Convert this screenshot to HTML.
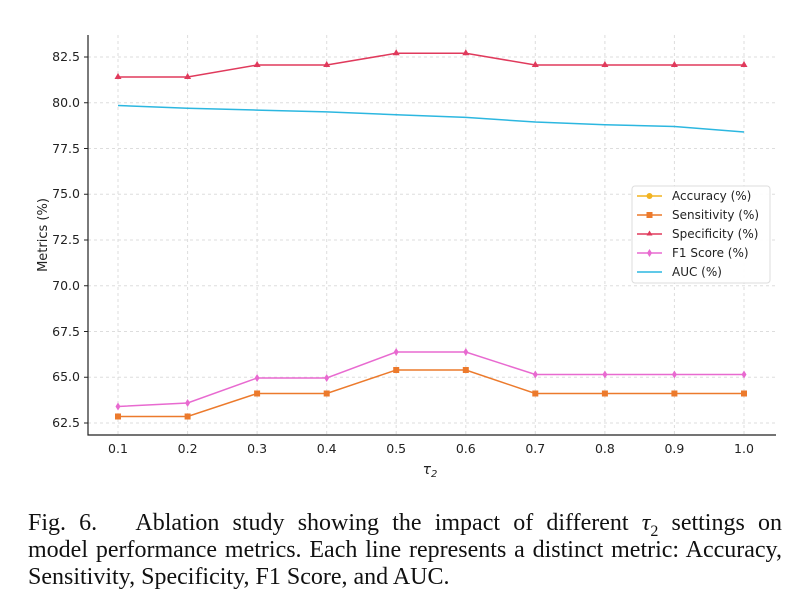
<!DOCTYPE html><html><head><style>
body{margin:0;background:#fff;width:804px;height:613px;overflow:hidden}
.cap{position:absolute;left:28px;width:754px;font-family:"Liberation Serif",serif;font-size:24px;line-height:27px;white-space:nowrap;color:#111}
.j{text-align:justify;text-align-last:justify}
sub{font-size:16px;line-height:0}
</style></head><body>
<svg width="804" height="500" style="position:absolute;left:0;top:0" font-family="DejaVu Sans, sans-serif">
<g stroke="#ddd" stroke-dasharray="3,3" stroke-width="1">
<line x1="88" x2="776" y1="57" y2="57"/><line x1="88" x2="776" y1="102.75" y2="102.75"/><line x1="88" x2="776" y1="148.5" y2="148.5"/><line x1="88" x2="776" y1="194.25" y2="194.25"/><line x1="88" x2="776" y1="240" y2="240"/><line x1="88" x2="776" y1="285.75" y2="285.75"/><line x1="88" x2="776" y1="331.5" y2="331.5"/><line x1="88" x2="776" y1="377.25" y2="377.25"/><line x1="88" x2="776" y1="423" y2="423"/>
<line y1="35" y2="435" x1="118" x2="118"/><line y1="35" y2="435" x1="187.6" x2="187.6"/><line y1="35" y2="435" x1="257.1" x2="257.1"/><line y1="35" y2="435" x1="326.7" x2="326.7"/><line y1="35" y2="435" x1="396.2" x2="396.2"/><line y1="35" y2="435" x1="465.8" x2="465.8"/><line y1="35" y2="435" x1="535.3" x2="535.3"/><line y1="35" y2="435" x1="604.9" x2="604.9"/><line y1="35" y2="435" x1="674.4" x2="674.4"/><line y1="35" y2="435" x1="744" x2="744"/>
</g>
<path d="M88 35V435H776" fill="none" stroke="#222" stroke-width="1.2"/>
<g font-size="12.5" fill="#222" text-anchor="end">
<text x="80" y="61">82.5</text><text x="80" y="107">80.0</text><text x="80" y="153">77.5</text><text x="80" y="198">75.0</text><text x="80" y="244">72.5</text><text x="80" y="290">70.0</text><text x="80" y="336">67.5</text><text x="80" y="381">65.0</text><text x="80" y="427">62.5</text>
</g>
<g stroke="#222"><line x1="84" x2="88" y1="57" y2="57"/><line x1="84" x2="88" y1="102.75" y2="102.75"/><line x1="84" x2="88" y1="148.5" y2="148.5"/><line x1="84" x2="88" y1="194.25" y2="194.25"/><line x1="84" x2="88" y1="240" y2="240"/><line x1="84" x2="88" y1="285.75" y2="285.75"/><line x1="84" x2="88" y1="331.5" y2="331.5"/><line x1="84" x2="88" y1="377.25" y2="377.25"/><line x1="84" x2="88" y1="423" y2="423"/></g>
<g font-size="12.5" fill="#222" text-anchor="middle">
<text x="118" y="453">0.1</text><text x="187.6" y="453">0.2</text><text x="257.1" y="453">0.3</text><text x="326.7" y="453">0.4</text><text x="396.2" y="453">0.5</text><text x="465.8" y="453">0.6</text><text x="535.3" y="453">0.7</text><text x="604.9" y="453">0.8</text><text x="674.4" y="453">0.9</text><text x="744" y="453">1.0</text>
<text x="430" y="474" font-style="italic" font-size="14">τ<tspan font-size="10" dy="3">2</tspan></text>
<text transform="translate(47,235) rotate(-90)" font-size="13">Metrics (%)</text>
</g>
<polyline fill="none" stroke="#2cb7e0" stroke-width="1.5" points="118,105.5 187.6,108.3 257.1,110.1 326.7,111.9 396.2,114.7 465.8,117.4 535.3,122 604.9,124.7 674.4,126.5 744,132"/>
<polyline fill="none" stroke="#e03a5c" stroke-width="1.5" points="118,77 187.6,77 257.1,65 326.7,65 396.2,53.3 465.8,53.3 535.3,65 604.9,65 674.4,65 744,65"/>
<g fill="#e03a5c"><path d="M118 73l3.5 6h-7z"/><path d="M187.6 73l3.5 6h-7z"/><path d="M257.1 61l3.5 6h-7z"/><path d="M326.7 61l3.5 6h-7z"/><path d="M396.2 49.3l3.5 6h-7z"/><path d="M465.8 49.3l3.5 6h-7z"/><path d="M535.3 61l3.5 6h-7z"/><path d="M604.9 61l3.5 6h-7z"/><path d="M674.4 61l3.5 6h-7z"/><path d="M744 61l3.5 6h-7z"/></g>
<polyline fill="none" stroke="#e86ad0" stroke-width="1.5" points="118,406.5 187.6,403 257.1,378 326.7,378 396.2,352 465.8,352 535.3,374.5 604.9,374.5 674.4,374.5 744,374.5"/>
<g fill="#e86ad0"><path d="M118 402.5l2.5 4-2.5 4-2.5-4z"/><path d="M187.6 399l2.5 4-2.5 4-2.5-4z"/><path d="M257.1 374l2.5 4-2.5 4-2.5-4z"/><path d="M326.7 374l2.5 4-2.5 4-2.5-4z"/><path d="M396.2 348l2.5 4-2.5 4-2.5-4z"/><path d="M465.8 348l2.5 4-2.5 4-2.5-4z"/><path d="M535.3 370.5l2.5 4-2.5 4-2.5-4z"/><path d="M604.9 370.5l2.5 4-2.5 4-2.5-4z"/><path d="M674.4 370.5l2.5 4-2.5 4-2.5-4z"/><path d="M744 370.5l2.5 4-2.5 4-2.5-4z"/></g>
<polyline fill="none" stroke="#ec7a2c" stroke-width="1.5" points="118,416.5 187.6,416.5 257.1,393.5 326.7,393.5 396.2,370 465.8,370 535.3,393.5 604.9,393.5 674.4,393.5 744,393.5"/>
<g fill="#ec7a2c"><rect x="115" y="413.5" width="6" height="6"/><rect x="184.6" y="413.5" width="6" height="6"/><rect x="254.1" y="390.5" width="6" height="6"/><rect x="323.7" y="390.5" width="6" height="6"/><rect x="393.2" y="367" width="6" height="6"/><rect x="462.8" y="367" width="6" height="6"/><rect x="532.3" y="390.5" width="6" height="6"/><rect x="601.9" y="390.5" width="6" height="6"/><rect x="671.4" y="390.5" width="6" height="6"/><rect x="741" y="390.5" width="6" height="6"/></g>
<rect x="632" y="186" width="138" height="97" rx="3" fill="#fff" fill-opacity="0.9" stroke="#ddd"/>
<g stroke-width="1.5">
<line x1="637" x2="662" y1="196" y2="196" stroke="#f2b320"/><circle cx="649.5" cy="196" r="3" fill="#f2b320"/>
<line x1="637" x2="662" y1="215" y2="215" stroke="#ec7a2c"/><rect x="646.5" y="212" width="6" height="6" fill="#ec7a2c"/>
<line x1="637" x2="662" y1="234" y2="234" stroke="#e03a5c"/><path d="M649.5 230.5l3 5h-6z" fill="#e03a5c"/>
<line x1="637" x2="662" y1="253" y2="253" stroke="#e86ad0"/><path d="M649.5 249l2.5 4-2.5 4-2.5-4z" fill="#e86ad0"/>
<line x1="637" x2="662" y1="272" y2="272" stroke="#2cb7e0"/>
</g>
<g font-size="12" fill="#222"><text x="672" y="200">Accuracy (%)</text><text x="672" y="219">Sensitivity (%)</text><text x="672" y="238">Specificity (%)</text><text x="672" y="257">F1 Score (%)</text><text x="672" y="276">AUC (%)</text></g>
</svg>
<div class="cap j" style="top:510px">Fig. 6.&nbsp;&nbsp; Ablation study showing the impact of different <i>τ</i><sub>2</sub> settings on</div>
<div class="cap j" style="top:537px">model performance metrics. Each line represents a distinct metric: Accuracy,</div>
<div class="cap" style="top:564px">Sensitivity, Specificity, F1 Score, and AUC.</div>
</body></html>
